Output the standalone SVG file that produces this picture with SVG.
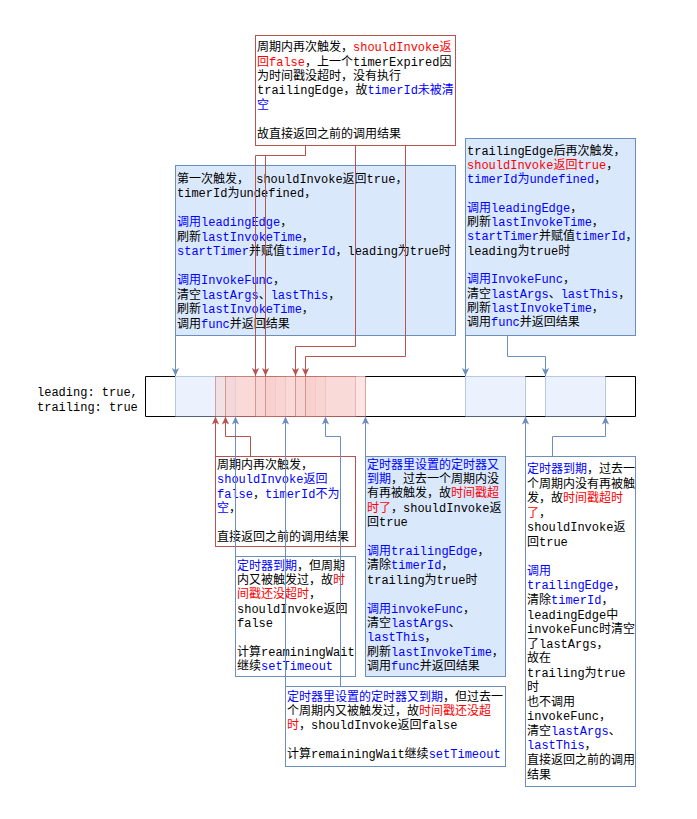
<svg xmlns="http://www.w3.org/2000/svg" width="697" height="819" viewBox="0 0 697 819">
<defs>
<marker id="ab" markerUnits="userSpaceOnUse" markerWidth="8" markerHeight="8" viewBox="0 0 8 8" refX="8" refY="4" orient="auto"><path d="M0,0.4 L8,4 L0,7.6 L2,4 z" fill="#6c8ebf"/></marker>
<marker id="ar" markerUnits="userSpaceOnUse" markerWidth="8" markerHeight="8" viewBox="0 0 8 8" refX="8" refY="4" orient="auto"><path d="M0,0.4 L8,4 L0,7.6 L2,4 z" fill="#b85450"/></marker>
</defs>
<style>
text{font-family:"Liberation Mono","Noto Sans CJK SC",monospace;font-size:12px;fill:#000}
.b{fill:#0000ff}
.r{fill:#ff0000}
.nb{fill:#dae8fc;stroke:#6c8ebf}
.nw{fill:#fff;stroke:#6c8ebf}
.nr{fill:#fff;stroke:#b85450}
.cb{fill:none;stroke:#6c8ebf;marker-end:url(#ab)}
.cr{fill:none;stroke:#b85450;marker-end:url(#ar)}
.tb{fill:#dae8fc;fill-opacity:.55;stroke:#6c8ebf;stroke-opacity:.45}
.tr{fill:#f8cecc;fill-opacity:.5;stroke:#b85450;stroke-opacity:.5}
.fr{fill:none;stroke:#000}
</style>
<rect width="697" height="819" fill="#fff"/>

<g id="timeline">
<text x="37" y="396">leading: true,</text>
<text x="37" y="411">trailing: true</text>
<path class="fr" d="M175,376.5 H145.5 V416.5 H635.5 V376.5 H605 M545,376.5 H525 M465,376.5 H365"/>
<rect class="tb" x="175.5" y="376.5" width="60" height="40"/>
<rect class="tr" x="215.5" y="376.5" width="60" height="40"/>
<rect class="tr" x="225.5" y="376.5" width="60" height="40"/>
<rect class="tr" x="255.5" y="376.5" width="60" height="40"/>
<rect class="tr" x="265.5" y="376.5" width="60" height="40"/>
<rect class="tr" x="295.5" y="376.5" width="60" height="40"/>
<rect class="tr" x="305.5" y="376.5" width="60" height="40"/>
<rect class="tb" x="465.5" y="376.5" width="60" height="40"/>
<rect class="tb" x="545.5" y="376.5" width="60" height="40"/>
</g>

<g id="top-red">
<rect class="nr" x="255.5" y="35.5" width="200" height="110"/>
<text x="257" y="51.2">周期内再次触发，<tspan class="r">shouldInvoke返</tspan></text>
<text x="257" y="65.6"><tspan class="r">回false</tspan>，上一个timerExpired因</text>
<text x="257" y="80">为时间戳没超时，没有执行</text>
<text x="257" y="94.4">trailingEdge，故<tspan class="b">timerId未被清</tspan></text>
<text x="257" y="108.8"><tspan class="b">空</tspan></text>
<text x="257" y="137.6">故直接返回之前的调用结果</text>
</g>

<g id="first-trigger">
<rect class="nb" x="175.5" y="165.5" width="280" height="170"/>
<text x="177" y="182.8">第一次触发， shouldInvoke返回true，</text>
<text x="177" y="197.3">timerId为undefined，</text>
<text x="177" y="226.3"><tspan class="b">调用leadingEdge</tspan>，</text>
<text x="177" y="240.8">刷新<tspan class="b">lastInvokeTime</tspan>，</text>
<text x="177" y="255.3"><tspan class="b">startTimer</tspan>并赋值<tspan class="b">timerId</tspan>，leading为true时</text>
<text x="177" y="284.3"><tspan class="b">调用InvokeFunc</tspan>，</text>
<text x="177" y="298.8">清空<tspan class="b">lastArgs</tspan>、<tspan class="b">lastThis</tspan>，</text>
<text x="177" y="313.3">刷新<tspan class="b">lastInvokeTime</tspan>，</text>
<text x="177" y="327.8">调用<tspan class="b">func</tspan>并返回结果</text>
</g>

<g id="after-trailing">
<rect class="nb" x="465.5" y="138.5" width="170" height="197"/>
<text x="467" y="154.5">trailingEdge后再次触发，</text>
<text x="467" y="168.8"><tspan class="r">shouldInvoke返回true</tspan>，</text>
<text x="467" y="183.1"><tspan class="b">timerId为undefined</tspan>，</text>
<text x="467" y="211.7"><tspan class="b">调用leadingEdge</tspan>，</text>
<text x="467" y="226">刷新<tspan class="b">lastInvokeTime</tspan>，</text>
<text x="467" y="240.3"><tspan class="b">startTimer</tspan>并赋值<tspan class="b">timerId</tspan>，</text>
<text x="467" y="254.6">leading为true时</text>
<text x="467" y="283.2"><tspan class="b">调用InvokeFunc</tspan>，</text>
<text x="467" y="297.5">清空<tspan class="b">lastArgs</tspan>、<tspan class="b">lastThis</tspan>，</text>
<text x="467" y="311.8">刷新<tspan class="b">lastInvokeTime</tspan>，</text>
<text x="467" y="326.1">调用<tspan class="b">func</tspan>并返回结果</text>
</g>

<g id="retrigger">
<rect class="nr" x="215.5" y="456.5" width="140" height="90"/>
<text x="217" y="468.5">周期内再次触发，</text>
<text x="217" y="483"><tspan class="b">shouldInvoke返回</tspan></text>
<text x="217" y="497.5"><tspan class="b">false</tspan>，<tspan class="b">timerId不为</tspan></text>
<text x="217" y="512"><tspan class="b">空</tspan>，</text>
<text x="217" y="541">直接返回之前的调用结果</text>
</g>

<g id="timer-expired-1">
<rect class="nw" x="235.5" y="556.5" width="120" height="120"/>
<text x="237" y="569.5"><tspan class="b">定时器到期</tspan>，但周期</text>
<text x="237" y="583.9">内又被触发过，故<tspan class="r">时</tspan></text>
<text x="237" y="598.3"><tspan class="r">间戳还没超时</tspan>，</text>
<text x="237" y="612.7">shouldInvoke返回</text>
<text x="237" y="627.1">false</text>
<text x="237" y="655.9">计算reaminingWait</text>
<text x="237" y="670.3">继续<tspan class="b">setTimeout</tspan></text>
</g>

<g id="timer-expired-2">
<rect class="nw" x="285.5" y="686.5" width="220" height="80"/>
<text x="287" y="700.5"><tspan class="b">定时器里设置的定时器又到期</tspan>，但过去一</text>
<text x="287" y="714.9">个周期内又被触发过，故<tspan class="r">时间戳还没超</tspan></text>
<text x="287" y="729.3"><tspan class="r">时</tspan>，shouldInvoke返回false</text>
<text x="287" y="758.1">计算remainingWait继续<tspan class="b">setTimeout</tspan></text>
</g>

<g id="timer-expired-3">
<rect class="nb" x="365.5" y="456.5" width="140" height="220"/>
<text x="367" y="468.5"><tspan class="b">定时器里设置的定时器又</tspan></text>
<text x="367" y="482.9"><tspan class="b">到期</tspan>，过去一个周期内没</text>
<text x="367" y="497.3">有再被触发，故<tspan class="r">时间戳超</tspan></text>
<text x="367" y="511.7"><tspan class="r">时了</tspan>，shouldInvoke返</text>
<text x="367" y="526.1">回true</text>
<text x="367" y="554.9"><tspan class="b">调用trailingEdge</tspan>，</text>
<text x="367" y="569.3">清除<tspan class="b">timerId</tspan>，</text>
<text x="367" y="583.7">trailing为true时</text>
<text x="367" y="612.5"><tspan class="b">调用invokeFunc</tspan>，</text>
<text x="367" y="626.9">清空<tspan class="b">lastArgs</tspan>、</text>
<text x="367" y="641.3"><tspan class="b">lastThis</tspan>，</text>
<text x="367" y="655.7">刷新<tspan class="b">lastInvokeTime</tspan>，</text>
<text x="367" y="670.1">调用<tspan class="b">func</tspan>并返回结果</text>
</g>

<g id="timer-expired-4">
<rect class="nw" x="525.5" y="456.5" width="110" height="330"/>
<text x="527" y="473"><tspan class="b">定时器到期</tspan>，过去一</text>
<text x="527" y="487.55">个周期内没有再被触</text>
<text x="527" y="502.1">发，故<tspan class="r">时间戳超时</tspan></text>
<text x="527" y="516.65"><tspan class="r">了</tspan>，</text>
<text x="527" y="531.2">shouldInvoke返</text>
<text x="527" y="545.75">回true</text>
<text x="527" y="574.85"><tspan class="b">调用</tspan></text>
<text x="527" y="589.4"><tspan class="b">trailingEdge</tspan>，</text>
<text x="527" y="603.95">清除<tspan class="b">timerId</tspan>，</text>
<text x="527" y="618.5">leadingEdge中</text>
<text x="527" y="633.05">invokeFunc时清空</text>
<text x="527" y="647.6">了lastArgs，</text>
<text x="527" y="662.15">故在</text>
<text x="527" y="676.7">trailing为true</text>
<text x="527" y="691.25">时</text>
<text x="527" y="705.8">也不调用</text>
<text x="527" y="720.35">invokeFunc，</text>
<text x="527" y="734.9">清空<tspan class="b">lastArgs</tspan>、</text>
<text x="527" y="749.45"><tspan class="b">lastThis</tspan>，</text>
<text x="527" y="764">直接返回之前的调用</text>
<text x="527" y="778.55">结果</text>
</g>

<g id="connectors">
<path class="cb" d="M175.5,336 V376"/>
<path class="cb" d="M465.5,336 V376"/>
<path class="cb" d="M507.5,336 V356.5 H545.5 V376"/>
<path class="cb" d="M235.5,556 V416.5"/>
<path class="cb" d="M285.5,686 V416.5"/>
<path class="cb" d="M340.5,686 V436.5 H325.5 V416.5"/>
<path class="cb" d="M365.5,456 V416.5"/>
<path class="cb" d="M525.5,456 V416.5"/>
<path class="cb" d="M552.5,456 V436.5 H605.5 V416.5"/>
<path class="cr" d="M305.5,146 V155.5 H255.5 V376"/>
<path class="cr" d="M305.5,146 V155.5 H265.5 V376"/>
<path class="cr" d="M355.5,146 V346.5 H295.5 V376"/>
<path class="cr" d="M405.5,146 V356.5 H305.5 V376"/>
<path class="cr" d="M215.5,456 V416.5"/>
<path class="cr" d="M250.5,456 V436.5 H225.5 V416.5"/>
</g>
</svg>
